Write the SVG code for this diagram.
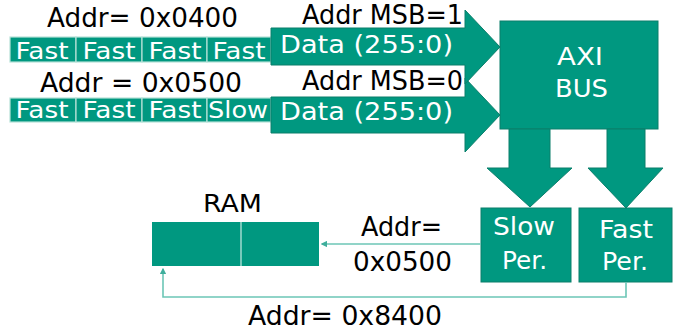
<svg xmlns="http://www.w3.org/2000/svg" width="681" height="335" viewBox="0 0 681 335">
  <style>
    .blk { fill: #009880; stroke: #0a7f6b; stroke-width: 1; }
    .cell { fill: #009880; stroke: #b6e2d8; stroke-width: 1.2; }
    .lbl { font-family: "DejaVu Sans", Verdana, sans-serif; font-size: 26px; fill: #000; }
    .wt { font-family: "DejaVu Sans", Verdana, sans-serif; font-size: 25px; fill: #fff; }
    .cellt { font-family: "DejaVu Sans", Verdana, sans-serif; font-size: 23.5px; fill: #fff; text-anchor: middle; }
    .link { fill: none; stroke: #6cc6b6; stroke-width: 1.6; }
  </style>
  <defs>
    <marker id="tip" viewBox="0 0 10 10" refX="8" refY="5" markerWidth="4" markerHeight="4" orient="auto">
      <path d="M0,0 L10,5 L0,10 z" fill="#3fae9c"/>
    </marker>
  </defs>
  <rect width="681" height="335" fill="#fff"/>

  <!-- transaction 1: four fast beats -->
  <g id="txn-fast">
    <text class="lbl" x="47" y="27" textLength="191" lengthAdjust="spacingAndGlyphs">Addr= 0x0400</text>
    <rect class="cell" x="10" y="37" width="66" height="25"/>
    <rect class="cell" x="76" y="37" width="66" height="25"/>
    <rect class="cell" x="142" y="37" width="65" height="25"/>
    <rect class="cell" x="207" y="37" width="64" height="25"/>
    <text class="cellt" x="42" y="58.5" textLength="53" lengthAdjust="spacingAndGlyphs">Fast</text>
    <text class="cellt" x="109" y="58.5" textLength="53" lengthAdjust="spacingAndGlyphs">Fast</text>
    <text class="cellt" x="175" y="58.5" textLength="53" lengthAdjust="spacingAndGlyphs">Fast</text>
    <text class="cellt" x="239" y="58.5" textLength="53" lengthAdjust="spacingAndGlyphs">Fast</text>
  </g>

  <!-- transaction 2: three fast beats and one slow -->
  <g id="txn-slow">
    <text class="lbl" x="40" y="92" textLength="202" lengthAdjust="spacingAndGlyphs">Addr = 0x0500</text>
    <rect class="cell" x="10" y="98" width="66" height="24"/>
    <rect class="cell" x="76" y="98" width="66" height="24"/>
    <rect class="cell" x="142" y="98" width="65" height="24"/>
    <rect class="cell" x="207" y="98" width="64" height="24"/>
    <text class="cellt" x="42" y="118" textLength="53" lengthAdjust="spacingAndGlyphs">Fast</text>
    <text class="cellt" x="109" y="118" textLength="53" lengthAdjust="spacingAndGlyphs">Fast</text>
    <text class="cellt" x="175" y="118" textLength="53" lengthAdjust="spacingAndGlyphs">Fast</text>
    <text class="cellt" x="238" y="118" textLength="60" lengthAdjust="spacingAndGlyphs">Slow</text>
  </g>

  <!-- data bus arrows into the interconnect -->
  <g id="data-bus-0">
    <polygon class="blk" points="271,97 465,97 465,78 500,115 465,152 465,133 271,133"/>
    <text class="wt" x="280" y="120" textLength="173" lengthAdjust="spacingAndGlyphs">Data (255:0)</text>
    <text class="lbl" x="302" y="90" textLength="161" lengthAdjust="spacingAndGlyphs">Addr MSB=0</text>
  </g>
  <g id="data-bus-1">
    <polygon class="blk" points="271,28 465,28 465,10 500,47 465,84 465,65 271,65"/>
    <text class="wt" x="280" y="53" textLength="173" lengthAdjust="spacingAndGlyphs">Data (255:0)</text>
    <text class="lbl" x="302" y="24" textLength="161" lengthAdjust="spacingAndGlyphs">Addr MSB=1</text>
  </g>

  <g id="axi-bus">
    <rect class="blk" x="500" y="21" width="158" height="108"/>
    <text class="wt" x="557" y="65" textLength="46" lengthAdjust="spacingAndGlyphs">AXI</text>
    <text class="wt" x="555" y="97" textLength="53" lengthAdjust="spacingAndGlyphs">BUS</text>
  </g>

  <!-- bus outputs to peripherals -->
  <g id="bus-out-slow">
    <polygon class="blk" points="509,129 550,129 550,168 572,168 530,207 487,168 509,168"/>
  </g>
  <g id="bus-out-fast">
    <polygon class="blk" points="607,129 645,129 645,168 663,168 626,208 588,168 607,168"/>
  </g>

  <g id="slow-per">
    <rect class="blk" x="481" y="208" width="90" height="74"/>
    <text class="wt" x="493" y="235" textLength="62" lengthAdjust="spacingAndGlyphs">Slow</text>
    <text class="wt" x="502" y="269" textLength="45" lengthAdjust="spacingAndGlyphs">Per.</text>
  </g>
  <g id="fast-per">
    <rect class="blk" x="579" y="208" width="93" height="74"/>
    <text class="wt" x="599" y="238" textLength="54" lengthAdjust="spacingAndGlyphs">Fast</text>
    <text class="wt" x="602" y="270" textLength="46" lengthAdjust="spacingAndGlyphs">Per.</text>
  </g>

  <g id="ram">
    <text class="lbl" x="203" y="212" textLength="59" lengthAdjust="spacingAndGlyphs" style="font-size:24px">RAM</text>
    <rect x="152" y="222" width="167" height="44" fill="#009880"/>
    <line x1="241" y1="222" x2="241" y2="266" stroke="#c8ebe3" stroke-width="1.2"/>
  </g>

  <!-- write paths from peripherals to memory -->
  <g id="connectors">
    <path class="link" d="M481,244 H322" marker-end="url(#tip)"/>
    <path class="link" d="M626,282 V297 H163 V269" marker-end="url(#tip)"/>
  </g>
  <g id="connector-labels">
    <text class="lbl" x="361" y="236" textLength="81" lengthAdjust="spacingAndGlyphs">Addr=</text>
    <text class="lbl" x="353" y="271" textLength="99" lengthAdjust="spacingAndGlyphs">0x0500</text>
    <text class="lbl" x="248" y="325" textLength="194" lengthAdjust="spacingAndGlyphs">Addr= 0x8400</text>
  </g>
</svg>
